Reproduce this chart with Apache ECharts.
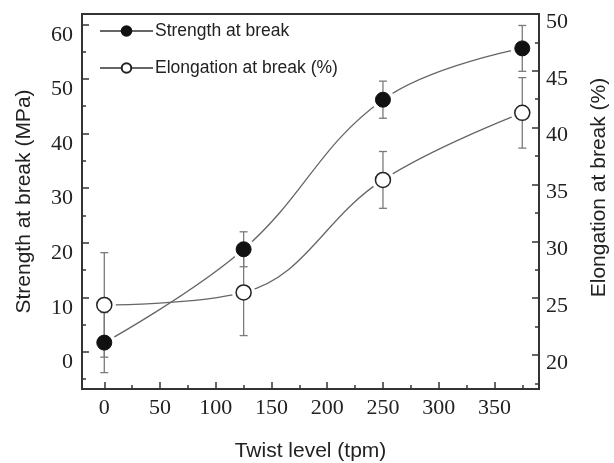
<!DOCTYPE html>
<html>
<head>
<meta charset="utf-8">
<script src="https://cdn.jsdelivr.net/npm/echarts@6/dist/echarts.min.js"></script>
<style>
  html, body { margin: 0; padding: 0; background: #fff; }
  #chart { width: 614px; height: 463px; }
</style>
</head>
<body>
<div id="chart"></div>
<script>
// twist level (tpm)
const twist = [0, 125, 250, 375]
// strength at break (MPa) and its error
const strength = [1.7, 18.8, 46.2, 55.6]
const strengthErr = [5.5, 3.2, 3.4, 4.2]
// elongation at break (%) and its error
const elongation = [24.4, 25.5, 35.4, 41.3]
const elongationErr = [4.6, 3.8, 2.5, 3.1]

// tick values
const xTicks = [0, 50, 100, 150, 200, 250, 300, 350]
const xMinorTicks = [25, 75, 125, 175, 225, 275, 325, 375]
const leftTicks = [0, 10, 20, 30, 40, 50, 60]
const leftMinorTicks = [-5, 5, 15, 25, 35, 45, 55]
const rightTicks = [20, 25, 30, 35, 40, 45, 50]
const rightMinorTicks = [17.5, 22.5, 27.5, 32.5, 37.5, 42.5, 47.5]

const axisColor = '#333'
const numFont = "'Liberation Serif', 'Times New Roman', serif"
const textFont = "'Liberation Sans', Arial, sans-serif"
const markSize = 15

// error bar with caps, stopping at the marker edge
function errorBar (params, api) {
  let x = api.value(0)
  let mid = api.coord([x, api.value(1)])
  let low = api.coord([x, api.value(2)])
  let high = api.coord([x, api.value(3)])
  let r = markSize / 2
  let w = 4
  let style = { stroke: '#7a7a7a', lineWidth: 1.3 }
  return {
    type: 'group',
    children: [
      { type: 'line', shape: { x1: low[0], y1: low[1], x2: mid[0], y2: mid[1] + r }, style: style },
      { type: 'line', shape: { x1: high[0], y1: high[1], x2: mid[0], y2: mid[1] - r }, style: style },
      { type: 'line', shape: { x1: low[0] - w, y1: low[1], x2: low[0] + w, y2: low[1] }, style: style },
      { type: 'line', shape: { x1: high[0] - w, y1: high[1], x2: high[0] + w, y2: high[1] }, style: style }
    ]
  }
}

function majorAxis (extra, ticks) {
  return Object.assign({
    type: 'value',
    splitLine: { show: false },
    axisLine: { show: true, onZero: false, lineStyle: { color: axisColor, width: 2 } },
    axisTick: { show: true, inside: true, length: 7, customValues: ticks, lineStyle: { color: axisColor, width: 1.5 } },
    nameLocation: 'middle',
    nameTextStyle: { fontFamily: textFont, fontSize: 21, color: '#222' }
  }, extra)
}

function minorAxis (extra, ticks) {
  return Object.assign({
    type: 'value',
    splitLine: { show: false },
    axisLine: { show: false, onZero: false },
    axisLabel: { show: false },
    axisTick: { show: true, inside: true, length: 4, customValues: ticks, lineStyle: { color: axisColor, width: 1.5 } }
  }, extra)
}

const strengthPts = twist.map((x, i) => [x, strength[i]])
const elongationPts = twist.map((x, i) => [x, elongation[i]])
const filledStyle = { color: '#111', borderColor: '#111', borderWidth: 1, opacity: 1 }
const openStyle = { color: '#fff', borderColor: '#222', borderWidth: 1.5, opacity: 1 }
const haloStyle = { color: '#fff', opacity: 1 }

const myChart = echarts.init(document.getElementById('chart'))
let option = {
  animation: false,
  backgroundColor: '#fff',
  grid: {
    left: 82, right: 75, top: 14, bottom: 74,
    outerBoundsMode: 'none',
    show: true, borderColor: axisColor, borderWidth: 2
  },
  legend: {
    orient: 'vertical',
    left: 94,
    top: 17,
    itemWidth: 53,
    itemHeight: 12,
    itemGap: 19,
    data: ['Strength at break', 'Elongation at break (%)'],
    textStyle: { fontFamily: textFont, fontSize: 17.5, color: '#222', padding: [0, 0, 0, -3] }
  },
  xAxis: [
    majorAxis({
      min: -20, max: 390, position: 'bottom',
      name: 'Twist level (tpm)', nameGap: 52,
      axisLabel: { customValues: xTicks, fontFamily: numFont, fontSize: 22, color: '#222', margin: 8 }
    }, xTicks),
    minorAxis({ min: -20, max: 390, position: 'bottom' }, xMinorTicks)
  ],
  yAxis: [
    majorAxis({
      min: -6.8, max: 61.9, position: 'left',
      name: 'Strength at break (MPa)', nameGap: 47,
      // labels sit a little below their ticks, as in the original plot
      axisLabel: { customValues: leftTicks, fontFamily: numFont, fontSize: 22, color: '#222', margin: 9, verticalAlign: 'top', lineHeight: 21 }
    }, leftTicks),
    majorAxis({
      min: 17, max: 50, position: 'right',
      name: 'Elongation at break (%)', nameGap: 50,
      nameTextStyle: { fontFamily: textFont, fontSize: 21, color: '#222', padding: [0, 0, 0, 28] },
      axisLabel: { customValues: rightTicks, fontFamily: numFont, fontSize: 22, color: '#222', margin: 7, verticalAlign: 'top', lineHeight: 16 }
    }, rightTicks),
    minorAxis({ min: -6.8, max: 61.9, position: 'left' }, leftMinorTicks),
    minorAxis({ min: 17, max: 50, position: 'right' }, rightMinorTicks)
  ],
  series: [
    // fitted curves (also give the legend icons)
    {
      name: 'Strength at break',
      type: 'line',
      yAxisIndex: 0,
      smooth: 0.4,
      symbol: 'circle',
      symbolSize: markSize,
      z: 2,
      lineStyle: { color: '#666', width: 1.3 },
      itemStyle: filledStyle,
      data: strengthPts
    },
    {
      name: 'Elongation at break (%)',
      type: 'line',
      yAxisIndex: 1,
      smooth: 0.4,
      symbol: 'circle',
      symbolSize: markSize,
      z: 2,
      lineStyle: { color: '#666', width: 1.3 },
      itemStyle: openStyle,
      data: elongationPts
    },
    // white halo so the curves stop short of the markers
    {
      name: 'strength gap',
      type: 'scatter',
      yAxisIndex: 0,
      symbolSize: 23,
      silent: true,
      z: 3,
      itemStyle: haloStyle,
      data: strengthPts
    },
    {
      name: 'elongation gap',
      type: 'scatter',
      yAxisIndex: 1,
      symbolSize: 23,
      silent: true,
      z: 3,
      itemStyle: haloStyle,
      data: elongationPts
    },
    // error bars
    {
      name: 'strength error',
      type: 'custom',
      yAxisIndex: 0,
      renderItem: errorBar,
      encode: { x: 0, y: [2, 3] },
      z: 4,
      data: twist.map((x, i) => [x, strength[i], strength[i] - strengthErr[i], strength[i] + strengthErr[i]])
    },
    {
      name: 'elongation error',
      type: 'custom',
      yAxisIndex: 1,
      renderItem: errorBar,
      encode: { x: 0, y: [2, 3] },
      z: 4,
      data: twist.map((x, i) => [x, elongation[i], elongation[i] - elongationErr[i], elongation[i] + elongationErr[i]])
    },
    // markers on top
    {
      name: 'strength marks',
      type: 'scatter',
      yAxisIndex: 0,
      symbolSize: markSize,
      z: 5,
      itemStyle: filledStyle,
      data: strengthPts
    },
    {
      name: 'elongation marks',
      type: 'scatter',
      yAxisIndex: 1,
      symbolSize: markSize,
      z: 5,
      itemStyle: openStyle,
      data: elongationPts
    }
  ]
}
myChart.setOption(option)
</script>
</body>
</html>
